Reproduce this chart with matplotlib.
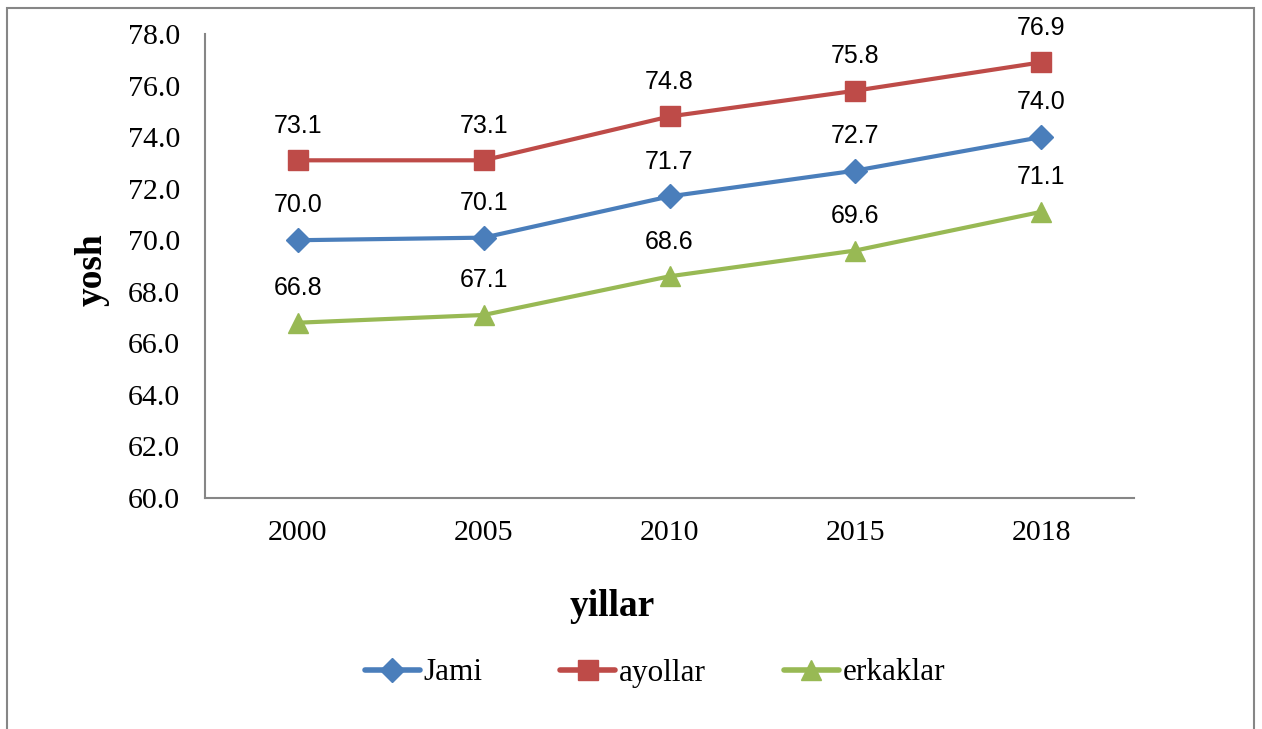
import matplotlib.pyplot as plt
from matplotlib.patches import Rectangle

years = ["2000", "2005", "2010", "2015", "2018"]
jami = [70.0, 70.1, 71.7, 72.7, 74.0]
ayollar = [73.1, 73.1, 74.8, 75.8, 76.9]
erkaklar = [66.8, 67.1, 68.6, 69.6, 71.1]

serif = "Liberation Serif"
label_font = "Liberation Sans"

fig = plt.figure(figsize=(12.62, 7.29), dpi=100)
ax = fig.add_axes([205 / 1262, 1 - 498 / 729, 929 / 1262, 464 / 729])

x = list(range(len(years)))
series = [
    (jami, "Jami", "#4A7EBB", "D", 12.5),
    (ayollar, "ayollar", "#BE4B48", "s", 14),
    (erkaklar, "erkaklar", "#98B954", "^", 14),
]
for vals, name, color, marker, ms in series:
    ax.plot(x, vals, color=color, lw=3, marker=marker, markersize=ms,
            label=name, solid_capstyle="round")
    for xi, v in zip(x, vals):
        ax.annotate(f"{v:.1f}", (xi, v), xytext=(0, 25), textcoords="offset points",
                    ha="center", va="center", fontsize=18, family=label_font)

ax.set_xlim(-0.5, 4.5)
ax.set_ylim(60, 78)
ax.set_yticks([60 + 2 * i for i in range(10)])
ax.set_yticklabels([f"{60 + 2 * i:.1f}" for i in range(10)], family=serif, fontsize=21.5)
ax.set_xticks(x)
ax.set_xticklabels(years, family=serif, fontsize=21.5)
ax.tick_params(axis="y", length=0, pad=18)
ax.tick_params(axis="x", length=0, pad=16)
for s in ["top", "right"]:
    ax.spines[s].set_visible(False)
for s in ["left", "bottom"]:
    ax.spines[s].set_color("#868686")
    ax.spines[s].set_linewidth(1.5)

fig.text(92 / 1262, 1 - 270 / 729, "yosh", rotation=90, ha="center", va="center",
         family=serif, fontsize=27, fontweight="bold")
fig.text(612 / 1262, 1 - 606 / 729, "yillar", ha="center", va="center",
         family=serif, fontsize=27, fontweight="bold")

leg = fig.legend(loc="center", bbox_to_anchor=(655 / 1262, 1 - 673 / 729), ncol=3,
                 frameon=False, prop={"family": serif, "size": 22.5}, handlelength=1.75,
                 handletextpad=0.12, columnspacing=2.5)
for h in leg.legend_handles:
    h.set_linewidth(4)

fig.patches.append(Rectangle((7 / 1262, -0.05), (1254 - 7) / 1262, 1.05 - 8 / 729,
                             transform=fig.transFigure, fill=False,
                             edgecolor="#868686", lw=1.5))

fig.savefig("out.png", dpi=100)
